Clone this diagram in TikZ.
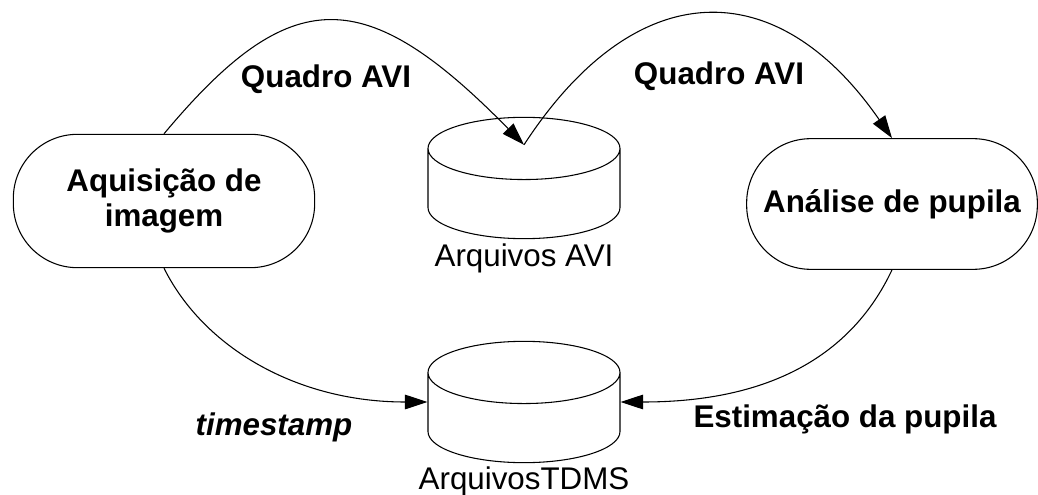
\documentclass[tikz,border=0pt]{standalone}
\usepackage{fontspec}
\setmainfont{Liberation Sans}
\usetikzlibrary{shapes.geometric,arrows.meta,positioning}

\tikzset{
  prozess/.style={draw, rectangle, rounded corners=48pt, line width=0.8pt,
    align=center, font=\bfseries\fontsize{23.5}{26}\selectfont},
  speicher/.style={draw, cylinder, shape border rotate=90, shape aspect=7,
    line width=0.8pt, minimum width=144pt, minimum height=91pt,
    anchor=shape center},
  fluss/.style={-{Triangle[length=17pt,width=11pt]}, line width=0.8pt},
  fett/.style={font=\bfseries\fontsize{23.5}{26}\selectfont, anchor=base},
  dateiname/.style={font=\fontsize{23.5}{26}\selectfont},
}

\begin{document}
\begin{tikzpicture}[x=0.75pt,y=-0.75pt]
  \useasboundingbox (0,0) rectangle (1038,495);

  % Prozesse
  \node[prozess, minimum width=226pt, minimum height=100pt] (aq) at (164,201)
    {Aquisição de\\imagem};
  \node[prozess, minimum width=218pt, minimum height=98pt] (ap) at (892,204)
    {Análise de pupila};

  % Speicher
  \node[speicher] (avi) at (524,178) {};
  \node[speicher] (tdms) at (524,402) {};
  \node[dateiname, below=0pt of avi] (aviname) {Arquivos AVI};
  \node[dateiname, below=-1pt of tdms] (tdmsname) {ArquivosTDMS};

  % Pfeile
  \draw[fluss] (aq.north) .. controls +(127,-152) and +(-159,-162) .. ([yshift=-21pt]avi.north);
  \draw[fluss] ([yshift=-21pt]avi.north) .. controls +(112,-172) and +(-115,-166) .. (ap.north);
  \draw[fluss] (aq.south) .. controls +(40,80) and +(-130,0) .. (tdms.west |- tdms.shape center);
  \draw[fluss] (ap.south) .. controls +(-40,85) and +(150,0) .. (tdms.east |- tdms.shape center);

  % Beschriftungen
  \node[fett] (q1) at (326,88) {Quadro AVI};
  \node[fett] (q2) at (719,85) {Quadro AVI};
  \node[fett] (ts) at (274,435) {\itshape timestamp};
  \node[fett] (est) at (845,427) {Estimação da pupila};
\end{tikzpicture}
\end{document}
